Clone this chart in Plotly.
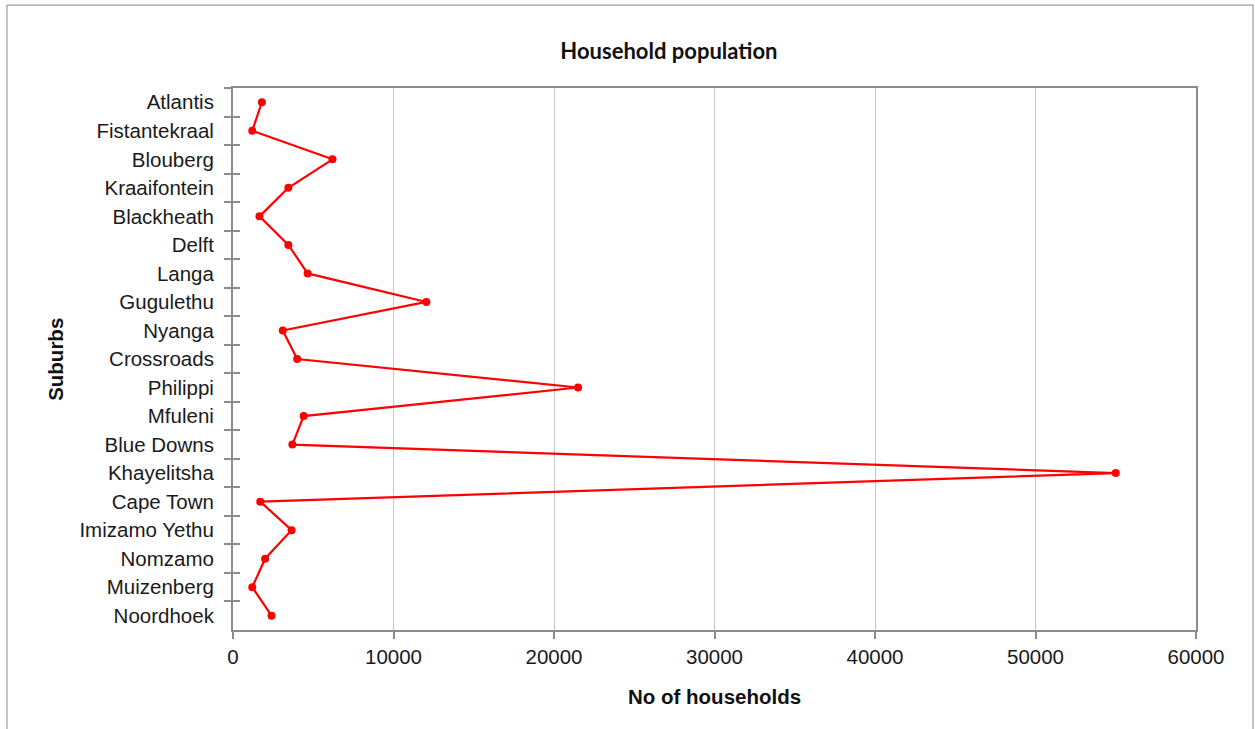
import plotly.graph_objects as go

# Suburbs listed top to bottom as they appear on the chart
suburbs = [
    "Atlantis", "Fistantekraal", "Blouberg", "Kraaifontein", "Blackheath",
    "Delft", "Langa", "Gugulethu", "Nyanga", "Crossroads", "Philippi",
    "Mfuleni", "Blue Downs", "Khayelitsha", "Cape Town", "Imizamo Yethu",
    "Nomzamo", "Muizenberg", "Noordhoek",
]

# Number of households per suburb
households = [
    1800, 1200, 6200, 3450, 1650,
    3450, 4650, 12050, 3100, 4000, 21500,
    4400, 3700, 55000, 1700, 3650,
    2000, 1200, 2400,
]

x_ticks = [0, 10000, 20000, 30000, 40000, 50000, 60000]

RED = "#FF0000"
AXIS_GREY = "#8C8C8C"
GRID_GREY = "#C8C8C8"
SANS = "Liberation Sans"
TICK_FONT = dict(family=SANS, size=20.5, color="#1a1a1a")

# Category axis spans exactly the row boundaries, first suburb at the top
y_range = [len(suburbs) - 0.5, -0.5]

fig = go.Figure()

fig.add_trace(go.Scatter(
    x=households,
    y=suburbs,
    mode="lines+markers",
    line=dict(color=RED, width=2.2),
    marker=dict(color=RED, size=8),
    showlegend=False,
    hoverinfo="x+y",
))

# Invisible companion trace that carries the inner half of the category ticks
fig.add_trace(go.Scatter(
    x=households,
    y=suburbs,
    yaxis="y2",
    mode="markers",
    marker=dict(opacity=0),
    showlegend=False,
    hoverinfo="skip",
))

fig.update_layout(
    width=1255,
    height=729,
    margin=dict(l=233, r=59, t=88, b=99),
    paper_bgcolor="white",
    plot_bgcolor="white",
    title=dict(
        text="<b>Household population</b>",
        font=dict(family="Lato", size=22, color="#111111"),
        x=0.533, xref="container", xanchor="center",
        y=0.930, yref="container", yanchor="middle",
    ),
    xaxis=dict(
        range=[0, 60000],
        tickmode="array",
        tickvals=x_ticks,
        ticktext=[str(v) for v in x_ticks],
        ticks="outside",
        ticklen=7,
        tickcolor=AXIS_GREY,
        tickwidth=1.5,
        tickfont=TICK_FONT,
        showgrid=True,
        gridcolor=GRID_GREY,
        gridwidth=1,
        showline=True,
        linecolor=AXIS_GREY,
        linewidth=2,
        mirror=True,
        zeroline=False,
    ),
    yaxis=dict(
        type="category",
        categoryorder="array",
        categoryarray=suburbs,
        range=y_range,
        autorange=False,
        ticks="outside",
        tickson="boundaries",
        ticklen=7,
        tickcolor=AXIS_GREY,
        tickwidth=1.5,
        tickfont=TICK_FONT,
        ticklabelstandoff=13,
        showgrid=False,
        showline=True,
        linecolor=AXIS_GREY,
        linewidth=2,
        mirror=True,
        zeroline=False,
    ),
    yaxis2=dict(
        type="category",
        categoryorder="array",
        categoryarray=suburbs,
        range=y_range,
        autorange=False,
        overlaying="y",
        side="left",
        ticks="inside",
        tickson="boundaries",
        ticklen=7,
        tickcolor=AXIS_GREY,
        tickwidth=1.5,
        showticklabels=False,
        showgrid=False,
        showline=False,
        zeroline=False,
    ),
    annotations=[
        dict(
            text="<b>No of households</b>",
            xref="paper", yref="paper",
            x=0.5, y=-0.1236,
            xanchor="center", yanchor="middle",
            showarrow=False,
            font=dict(family=SANS, size=20.5, color="#111111"),
        ),
        dict(
            text="<b>Suburbs</b>",
            xref="paper", yref="paper",
            x=-0.185, y=0.5,
            xanchor="center", yanchor="middle",
            textangle=-90,
            showarrow=False,
            font=dict(family=SANS, size=20.5, color="#111111"),
        ),
    ],
    shapes=[
        # Outer chart frame
        dict(
            type="rect", xref="paper", yref="paper",
            x0=-0.2347, x1=1.0592, y0=-0.2, y1=1.153,
            line=dict(color="#9A9A9A", width=1.2),
            fillcolor="rgba(0,0,0,0)",
            layer="below",
        ),
    ],
)

fig.write_html("out.html")
